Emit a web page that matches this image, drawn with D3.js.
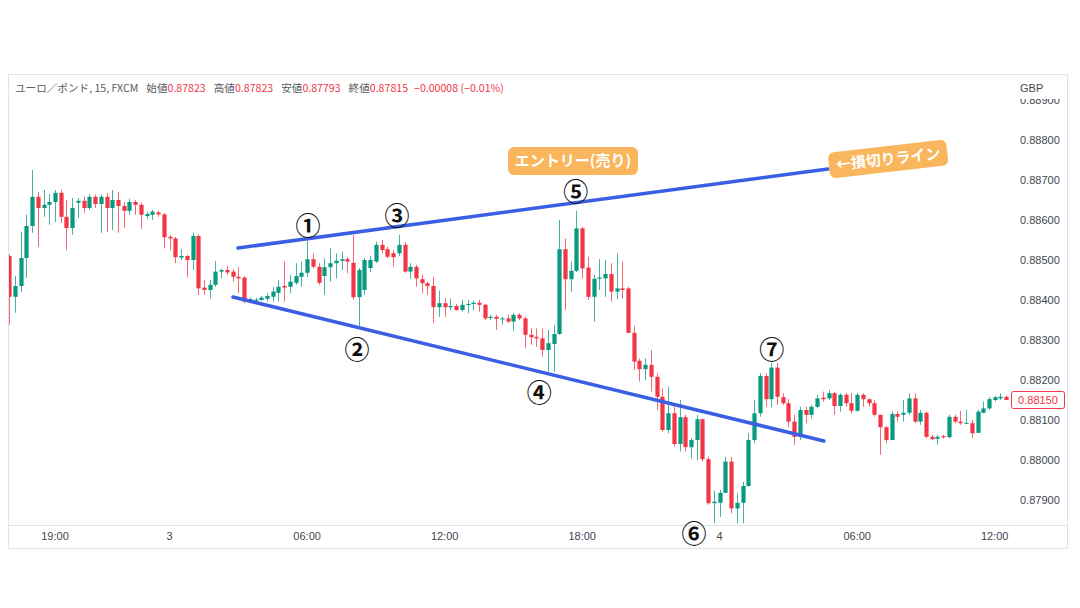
<!DOCTYPE html>
<html><head><meta charset="utf-8">
<script src="https://cdn.jsdelivr.net/npm/d3@7"></script>
<style>body{margin:0;background:#fff;}svg{display:block;}</style>
</head><body>
<svg id="c" width="1080" height="608"></svg>
<script>
// ---- categories: 15-minute candles from day 2 17:00 to day 4 12:30 ----
const categories = d3.timeMinute.every(15)
  .range(new Date(2024, 0, 2, 17, 0), new Date(2024, 0, 4, 12, 45))
  .map(d => d3.timeFormat("%-d %H:%M")(d));

const openVals = [
 .88510,.88408,.88435,.88505,.88585,.88658,.88630,.88638,.88645,.88668,
 .88608,.88580,.88643,.88648,.88630,.88658,.88640,.88658,.88630,.88650,
 .88635,.88623,.88645,.88638,.88610,.88613,.88619,.88614,.88558,.88554,
 .88506,.88510,.88500,.88560,.88431,.88425,.88438,.88471,.88475,.88471,
 .88458,.88456,.88398,.88399,.88400,.88403,.88408,.88418,.88435,.88433,
 .88443,.88458,.88468,.88502,.88483,.88460,.88482,.88492,.88498,.88502,
 .88493,.88407,.88425,.88480,.88496,.88538,.88527,.88517,.88517,.88538,
 .88471,.88483,.88452,.88442,.88435,.88382,.88392,.88382,.88385,.88375,
 .88388,.88390,.88393,.88388,.88355,.88358,.88353,.88354,.88346,.88363,
 .88354,.88313,.88308,.88304,.88275,.88290,.88315,.88527,.88452,.88473,
 .88579,.88481,.88408,.88453,.88454,.88465,.88421,.88429,.88429,.88318,
 .88248,.88227,.88238,.88208,.88158,.88075,.88117,.88040,.88107,.88032,
 .88050,.88102,.88002,.87892,.87893,.87918,.87996,.87879,.87893,.87935,
 .88050,.88117,.88210,.88152,.88231,.88157,.88142,.88096,.88058,.88125,
 .88113,.88133,.88156,.88154,.88167,.88135,.88163,.88142,.88123,.88163,
 .88152,.88142,.88113,.88082,.88050,.88115,.88113,.88118,.88154,.88096,
 .88118,.88058,.88053,.88060,.88057,.88108,.88096,.88091,.88092,.88068,
 .88118,.88129,.88150,.88154,.88158];

const closeVals = [
 .88408,.88435,.88505,.88585,.88658,.88630,.88638,.88645,.88668,.88608,
 .88580,.88630,.88648,.88630,.88658,.88640,.88658,.88630,.88650,.88635,
 .88623,.88645,.88638,.88613,.88615,.88621,.88614,.88557,.88554,.88507,
 .88510,.88500,.88560,.88429,.88425,.88438,.88471,.88475,.88469,.88458,
 .88454,.88396,.88402,.88401,.88406,.88410,.88421,.88433,.88431,.88446,
 .88460,.88468,.88502,.88483,.88443,.88482,.88492,.88498,.88502,.88496,
 .88407,.88475,.88500,.88500,.88538,.88525,.88508,.88507,.88538,.88471,
 .88483,.88454,.88442,.88435,.88382,.88392,.88382,.88385,.88375,.88388,
 .88390,.88393,.88388,.88354,.88358,.88353,.88354,.88346,.88363,.88354,
 .88313,.88307,.88304,.88275,.88292,.88315,.88527,.88452,.88473,.88579,
 .88479,.88408,.88453,.88456,.88465,.88421,.88429,.88425,.88318,.88246,
 .88227,.88238,.88208,.88158,.88075,.88117,.88040,.88107,.88032,.88050,
 .88102,.88002,.87892,.87896,.87918,.87996,.87879,.87893,.87935,.88050,
 .88117,.88210,.88152,.88231,.88158,.88142,.88096,.88058,.88125,.88113,
 .88133,.88154,.88152,.88167,.88135,.88163,.88142,.88123,.88163,.88152,
 .88142,.88113,.88082,.88050,.88115,.88108,.88118,.88154,.88096,.88118,
 .88058,.88052,.88058,.88057,.88108,.88096,.88092,.88093,.88067,.88121,
 .88129,.88152,.88157,.88158,.88150];

const highVals = [
 .88515,.88460,.88570,.88613,.88725,.88670,.88675,.88665,.88675,.88675,
 .88650,.88655,.88655,.88658,.88665,.88663,.88663,.88668,.88675,.88670,
 .88645,.88653,.88650,.88643,.88621,.88625,.88623,.88617,.88563,.88558,
 .88527,.88513,.88569,.88565,.88450,.88450,.88498,.88479,.88485,.88477,
 .88482,.88460,.88407,.88405,.88410,.88417,.88433,.88450,.88496,.88463,
 .88492,.88496,.88548,.88517,.88492,.88504,.88529,.88517,.88521,.88508,
 .88563,.88480,.88505,.88510,.88546,.88550,.88533,.88525,.88563,.88545,
 .88492,.88488,.88463,.88446,.88458,.88423,.88404,.88404,.88390,.88400,
 .88400,.88398,.88400,.88390,.88363,.88363,.88358,.88363,.88367,.88367,
 .88358,.88329,.88329,.88329,.88325,.88338,.88600,.88554,.88496,.88623,
 .88583,.88508,.88463,.88502,.88500,.88492,.88517,.88496,.88433,.88335,
 .88254,.88254,.88275,.88217,.88179,.88183,.88133,.88150,.88113,.88055,
 .88113,.88104,.88008,.87923,.87925,.88008,.88008,.87917,.87946,.88067,
 .88150,.88217,.88217,.88243,.88243,.88167,.88152,.88113,.88133,.88133,
 .88138,.88163,.88171,.88175,.88171,.88167,.88168,.88167,.88168,.88167,
 .88154,.88150,.88113,.88085,.88121,.88121,.88150,.88167,.88167,.88125,
 .88121,.88063,.88063,.88063,.88113,.88113,.88123,.88125,.88100,.88125,
 .88146,.88157,.88160,.88167,.88161];

const lowVals = [
 .88338,.88368,.88420,.88455,.88568,.88533,.88608,.88588,.88595,.88593,
 .88525,.88563,.88605,.88618,.88625,.88630,.88568,.88570,.88575,.88568,
 .88580,.88613,.88613,.88578,.88603,.88600,.88608,.88529,.88525,.88492,
 .88500,.88457,.88475,.88413,.88413,.88404,.88433,.88454,.88463,.88446,
 .88417,.88392,.88392,.88395,.88398,.88396,.88396,.88396,.88396,.88417,
 .88438,.88433,.88458,.88479,.88438,.88413,.88446,.88454,.88475,.88467,
 .88400,.88333,.88413,.88470,.88493,.88517,.88504,.88483,.88510,.88468,
 .88454,.88433,.88417,.88413,.88342,.88358,.88358,.88375,.88373,.88371,
 .88367,.88375,.88371,.88350,.88350,.88325,.88338,.88342,.88323,.88350,
 .88279,.88288,.88283,.88258,.88221,.88221,.88313,.88375,.88421,.88470,
 .88454,.88400,.88346,.88425,.88408,.88396,.88402,.88404,.88317,.88225,
 .88196,.88200,.88171,.88125,.88071,.88067,.88033,.88021,.88021,.88004,
 .88000,.87996,.87888,.87842,.87858,.87917,.87867,.87842,.87842,.87933,
 .88042,.88108,.88133,.88132,.88138,.88138,.88083,.88038,.88050,.88092,
 .88104,.88129,.88146,.88150,.88113,.88121,.88133,.88117,.88121,.88133,
 .88133,.88108,.88013,.88042,.88050,.88096,.88096,.88113,.88092,.88088,
 .88054,.88050,.88038,.88053,.88054,.88092,.88088,.88090,.88054,.88067,
 .88117,.88125,.88146,.88150,.88150];

const yTicks = [0.879,0.880,0.881,0.882,0.883,0.884,0.885,0.886,0.887,0.888,0.889];
const xTickCats = ["2 19:00","3 00:00","3 06:00","3 12:00","3 18:00","4 00:00","4 06:00","4 12:00"];
const xTickLabels = ["19:00","3","06:00","12:00","18:00","4","06:00","12:00"];

const headerParts = ["ユーロ／ポンド, 15, FXCM","始値","0.87823","高値","0.87823","安値","0.87793","終値","0.87815","−0.00008 (−0.01%)"];

// trend lines: [candle index, price]
const upperLine = [[39.94, 0.88530],[142.9, 0.887275]];
const lowerLine = [[39.06, 0.884075],[142.2, 0.880475]];
const circleMarks = ["①","②","③","④","⑤","⑥","⑦"];
const circleIdx   = [52.15, 60.7, 67.7, 92.5, 98.9, 119.5, 133.1];
const circlePrice = [0.88590, 0.88280, 0.88615, 0.881725, 0.88675, 0.87820, 0.88280];
const calloutText  = ["エントリー(売り)", "←損切りライン"];
const calloutIdx   = [98.4, 153.4];
const calloutPrice = [0.887475, 0.887525];

// ---- layout ----
const W = 1080, H = 608;
const frame = {l: 8, t: 74, r: 1068, b: 549};
const plot = {l: 8, t: 75, r: 1010, b: 525};
const UP = "#089981", DN = "#f23645";
const axisFont = "'Liberation Sans', Arial, sans-serif";
const jpFont = "'Noto Sans CJK JP', 'Noto Sans', sans-serif";

const svg = d3.select("#c");
svg.append("rect").attr("width", W).attr("height", H).attr("fill", "#fff");

const x = d3.scaleBand().domain(categories).range([6.3, 1009.05]).padding(0);
const bw = x.bandwidth();
const xc = c => x(c) + bw / 2;
const xi = d3.scaleLinear().domain([0, categories.length - 1])
  .range([xc(categories[0]), xc(categories[categories.length - 1])]);
const y = d3.scaleLinear().domain([0.879, 0.889]).range([500, 100]);

// frame
svg.append("rect").attr("x", frame.l + 0.5).attr("y", frame.t + 0.5)
  .attr("width", frame.r - frame.l - 1).attr("height", frame.b - frame.t - 1)
  .attr("fill", "none").attr("stroke", "#e0e3eb");
svg.append("line").attr("x1", frame.l).attr("x2", frame.r)
  .attr("y1", plot.b + 0.5).attr("y2", plot.b + 0.5).attr("stroke", "#e0e3eb");

// clip
svg.append("clipPath").attr("id", "pc").append("rect")
  .attr("x", plot.l + 1).attr("y", plot.t).attr("width", plot.r - plot.l - 1).attr("height", plot.b - plot.t);

const candles = categories.map((c, i) => ({c, o: openVals[i], h: highVals[i], l: lowVals[i], cl: closeVals[i]}));
const g = svg.append("g").attr("clip-path", "url(#pc)");
const cg = g.selectAll("g.cd").data(candles).join("g").attr("class", "cd");
cg.append("line")
  .attr("x1", d => Math.round(xc(d.c)) + 0.5).attr("x2", d => Math.round(xc(d.c)) + 0.5)
  .attr("y1", d => y(d.h)).attr("y2", d => y(d.l))
  .attr("stroke", d => d.cl >= d.o ? UP : DN).attr("stroke-opacity", 0.75).attr("stroke-width", 1);
cg.append("rect")
  .attr("x", d => Math.round(xc(d.c)) + 0.5 - 2.1).attr("width", 4.2)
  .attr("y", d => y(Math.max(d.o, d.cl)))
  .attr("height", d => Math.max(1, Math.abs(y(d.o) - y(d.cl))))
  .attr("fill", d => d.cl >= d.o ? UP : DN);

// y axis
const ya = svg.append("g").attr("transform", `translate(${plot.r},0)`)
  .call(d3.axisRight(y).tickValues(yTicks).tickSize(0).tickPadding(10).tickFormat(d3.format(".5f")));
ya.select(".domain").remove();
ya.selectAll("text").attr("font-family", axisFont).attr("font-size", 11).attr("fill", "#434651");

// cover for currency label
svg.append("rect").attr("x", plot.r + 1).attr("y", frame.t + 1).attr("width", frame.r - plot.r - 2).attr("height", 24).attr("fill", "#fff");
svg.append("text").attr("x", plot.r + 10).attr("y", 92).text("GBP")
  .attr("font-family", axisFont).attr("font-size", 11).attr("fill", "#434651");

// x axis
const xa = svg.append("g").attr("transform", `translate(0,${plot.b})`)
  .call(d3.axisBottom(x).tickValues(xTickCats).tickSize(0).tickPadding(7)
    .tickFormat(d => xTickLabels[xTickCats.indexOf(d)]));
xa.select(".domain").remove();
xa.selectAll("text").attr("font-family", axisFont).attr("font-size", 11).attr("fill", "#434651");

// last price label
const last = closeVals[closeVals.length - 1];
svg.append("rect").attr("x", plot.r + 1.5).attr("y", y(last) - 8.5).attr("width", 53).attr("height", 17)
  .attr("rx", 2).attr("fill", "#fff").attr("stroke", DN);
svg.append("text").attr("x", plot.r + 28).attr("y", y(last)).attr("dy", "0.35em")
  .attr("text-anchor", "middle").text(d3.format(".5f")(last))
  .attr("font-family", axisFont).attr("font-size", 11).attr("fill", DN);

// header: one text line, pieces flow naturally
const hdr = svg.append("text").attr("x", 15).attr("y", 92)
  .attr("font-family", jpFont).attr("font-size", 10.6);
headerParts.forEach((t, k) => {
  const isLabel = k === 0 || (k % 2 === 1 && k < 9);
  hdr.append("tspan").text(t)
    .attr("dx", (k === 0) ? 0 : (isLabel ? 8 : (k === 9 ? 6 : 0)))
    .attr("fill", isLabel ? "#555a66" : DN);
});

// trend lines
const ln = d3.line().x(d => xi(d[0])).y(d => y(d[1]));
[upperLine, lowerLine].forEach(L => {
  svg.append("path").attr("d", ln(L)).attr("fill", "none")
    .attr("stroke", "#3a5fe3").attr("stroke-width", 3.5).attr("stroke-linecap", "round");
});

// callouts
const calloutSize = [[130, 28], [119, 26]];
const calloutRot = [0, -6.5];
calloutText.forEach((t, k) => {
  const gg = svg.append("g")
    .attr("transform", `translate(${xi(calloutIdx[k])},${y(calloutPrice[k])}) rotate(${calloutRot[k]})`);
  gg.append("rect").attr("x", -calloutSize[k][0] / 2).attr("y", -calloutSize[k][1] / 2)
    .attr("width", calloutSize[k][0]).attr("height", calloutSize[k][1]).attr("rx", 6)
    .attr("fill", "#f9b65c");
  gg.append("text").attr("text-anchor", "middle").attr("dy", "0.36em").text(t)
    .attr("font-family", jpFont).attr("font-weight", "bold").attr("font-size", 15).attr("fill", "#fff");
});

// circled numbers
circleMarks.forEach((t, k) => {
  svg.append("text").attr("x", xi(circleIdx[k])).attr("y", y(circlePrice[k]))
    .attr("text-anchor", "middle").attr("dominant-baseline", "central").text(t)
    .attr("font-family", jpFont).attr("font-weight", "bold").attr("font-size", 25).attr("fill", "#111");
});
</script>
</body></html>
